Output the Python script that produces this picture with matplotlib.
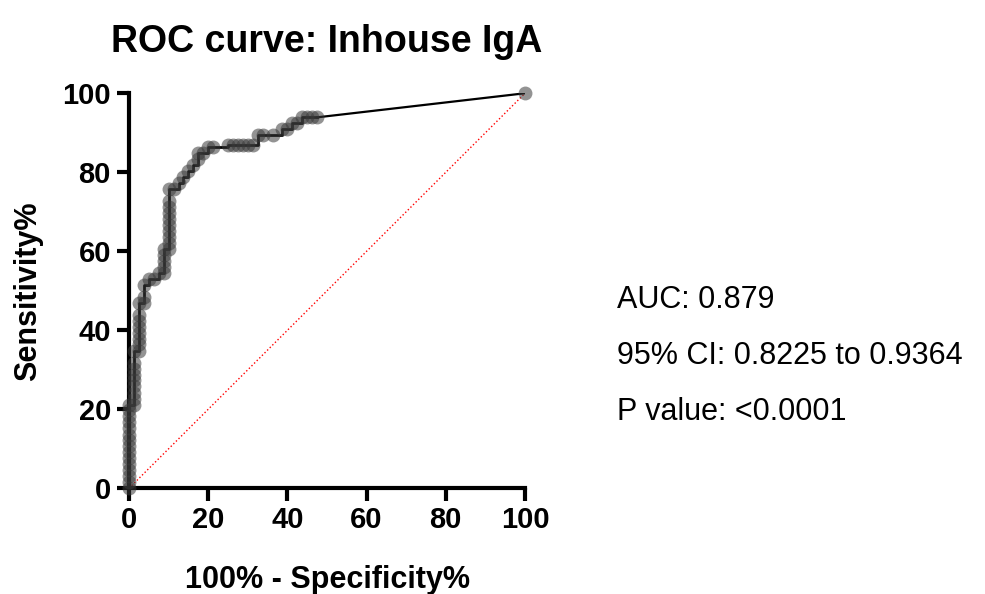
import matplotlib.pyplot as plt

plt.rcParams['font.family'] = ['Liberation Sans', 'DejaVu Sans']

# 100% - Specificity% (x) and Sensitivity% (y)
fpr = [0, 0, 0, 0, 0, 0, 0, 0, 0, 0, 0, 0, 0, 0, 0,
       1.25, 1.25, 1.25, 1.25, 1.25, 1.25, 1.25, 1.25, 1.25,
       2.5, 2.5, 2.5, 2.5, 2.5, 2.5, 2.5, 2.5,
       3.75, 3.75, 3.75, 5, 6.25, 7.5,
       8.75, 8.75, 8.75, 8.75, 8.75,
       10, 10, 10, 10, 10, 10, 10, 10, 10, 10,
       11.25, 12.5, 13.75, 15, 16.25, 17.5, 17.5, 18.75, 20, 21.25,
       25, 26.25, 27.5, 28.75, 30, 31.25,
       32.5, 33.75, 36.25, 38.75, 40, 41.25, 42.5,
       43.75, 45, 46.25, 47.5, 100]
sens = [0, 1.5, 3.0, 4.5, 6.1, 7.6, 9.1, 10.6, 12.1, 13.6, 15.2, 16.7, 18.2, 19.7, 21.2,
        21.2, 22.7, 24.2, 25.8, 27.3, 28.8, 30.3, 31.8, 34.8,
        34.8, 36.4, 37.9, 39.4, 40.9, 42.4, 43.9, 47.0,
        47.0, 48.5, 51.5, 53.0, 53.0, 54.5,
        54.5, 56.1, 57.6, 59.1, 60.6,
        60.6, 62.1, 63.6, 65.2, 66.7, 68.2, 69.7, 71.2, 72.7, 75.8,
        75.8, 77.3, 78.8, 80.3, 81.8, 83.3, 84.8, 84.8, 86.4, 86.4,
        87.0, 87.0, 87.0, 87.0, 87.0, 87.0,
        89.4, 89.4, 89.4, 90.9, 90.9, 92.4, 92.4,
        93.9, 93.9, 93.9, 93.9, 100]

auc_text = ["AUC: 0.879", "95% CI: 0.8225 to 0.9364", "P value: <0.0001"]

fig = plt.figure(figsize=(9.85, 5.94), dpi=100)
ax = fig.add_axes([0.131, 0.178, 0.402, 0.665])

# step line through the points, straight segment to the last point
ax.step(fpr[:-1], sens[:-1], where='post', color='black', lw=2, zorder=3)
ax.plot(fpr[-2:], sens[-2:], color='black', lw=1.6, zorder=3)
ax.plot(fpr, sens, 'o', color='#3a3a3a', alpha=0.55, ms=10, mec='none', zorder=4, clip_on=False)
ax.plot([0, 100], [0, 100], ':', color='red', lw=1, zorder=2)

ax.set_xlim(0, 100)
ax.set_ylim(0, 100)
ax.set_xticks(range(0, 101, 20))
ax.set_yticks(range(0, 101, 20))
for s in ['top', 'right']:
    ax.spines[s].set_visible(False)
for s in ['left', 'bottom']:
    ax.spines[s].set_linewidth(3)
ax.tick_params(width=3, length=9, labelsize=21, pad=4)
for lab in ax.get_xticklabels() + ax.get_yticklabels():
    lab.set_fontweight('bold')

ax.set_xlabel("100% - Specificity%", fontsize=22, fontweight='bold', labelpad=22)
ax.set_ylabel("Sensitivity%", fontsize=22, fontweight='bold', labelpad=14)
ax.set_title("ROC curve: Inhouse IgA", fontsize=27, fontweight='bold', pad=30)

for i, t in enumerate(auc_text):
    fig.text(0.626, 0.495 - i * 0.0945, t, fontsize=22, va='center')

fig.savefig("out.png")
